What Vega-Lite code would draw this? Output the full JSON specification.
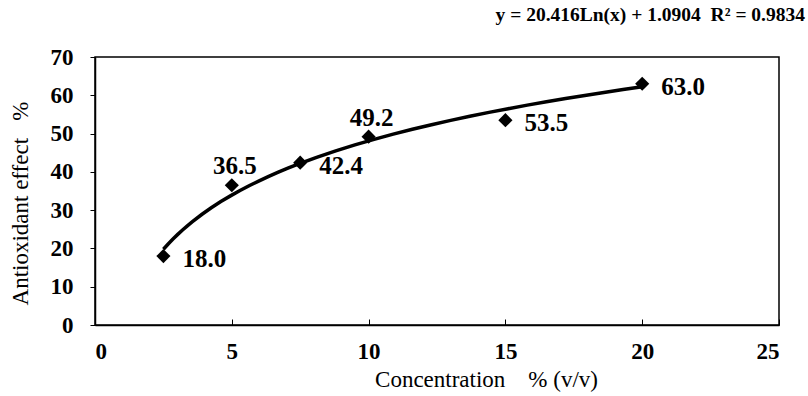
{
  "$schema": "https://vega.github.io/schema/vega-lite/v6.json",
  "width": 684,
  "height": 268,
  "autosize": {"type": "none"},
  "padding": {"left": 95, "top": 57, "right": 29, "bottom": 71},
  "background": "white",
  "title": {
    "text": "y = 20.416Ln(x) + 1.0904\u00a0\u00a0R² = 0.9834",
    "anchor": "end",
    "frame": "group",
    "font": "Liberation Serif",
    "fontSize": 19.5,
    "fontWeight": "bold",
    "color": "black",
    "dx": 26,
    "offset": 21
  },
  "config": {
    "view": {"stroke": "black", "strokeWidth": 1.5},
    "axis": {
      "labelFont": "Liberation Serif",
      "labelFontSize": 23,
      "labelFontWeight": "bold",
      "labelColor": "black",
      "titleFont": "Liberation Serif",
      "titleFontSize": 23,
      "titleFontWeight": "normal",
      "titleColor": "black",
      "domainColor": "black",
      "domainWidth": 1.5,
      "tickColor": "black",
      "grid": false
    }
  },
  "data": {
    "values": [
      {"x": 2.5, "y": 18.0, "label": "18.0"},
      {"x": 5, "y": 36.5, "label": "36.5"},
      {"x": 7.5, "y": 42.4, "label": "42.4"},
      {"x": 10, "y": 49.2, "label": "49.2"},
      {"x": 15, "y": 53.5, "label": "53.5"},
      {"x": 20, "y": 63.0, "label": "63.0"}
    ]
  },
  "encoding": {
    "x": {
      "field": "x",
      "type": "quantitative",
      "scale": {"domain": [0, 25], "nice": false, "zero": false},
      "axis": {
        "values": [0, 5, 10, 15, 20, 25],
        "tickSize": -6,
        "labelPadding": 21,
        "title": "Concentration\u00a0\u00a0\u00a0\u00a0% (v/v)",
        "titlePadding": 5,
        "titleX": 391
      }
    },
    "y": {
      "field": "y",
      "type": "quantitative",
      "scale": {"domain": [0, 70], "nice": false},
      "axis": {
        "values": [0, 10, 20, 30, 40, 50, 60, 70],
        "tickSize": 5,
        "labelPadding": 17,
        "title": "Antioxidant effect\u00a0\u00a0\u00a0%",
        "titlePadding": 18,
        "titleY": 146
      }
    }
  },
  "layer": [
    {
      "transform": [
        {"regression": "y", "on": "x", "method": "log", "extent": [2.5, 20]}
      ],
      "mark": {"type": "line", "color": "black", "strokeWidth": 3.5}
    },
    {
      "mark": {"type": "point", "shape": "diamond", "filled": true, "color": "black", "size": 200, "opacity": 1}
    },
    {
      "transform": [{"filter": "datum.x == 5 || datum.x == 10"}],
      "mark": {"type": "text", "font": "Liberation Serif", "fontSize": 25, "fontWeight": "bold", "color": "black", "dx": 3, "dy": -19},
      "encoding": {"text": {"field": "label"}}
    },
    {
      "transform": [{"filter": "datum.x != 5 && datum.x != 10"}],
      "mark": {"type": "text", "font": "Liberation Serif", "fontSize": 25, "fontWeight": "bold", "color": "black", "align": "left", "dx": 19, "dy": 3},
      "encoding": {"text": {"field": "label"}}
    }
  ]
}
